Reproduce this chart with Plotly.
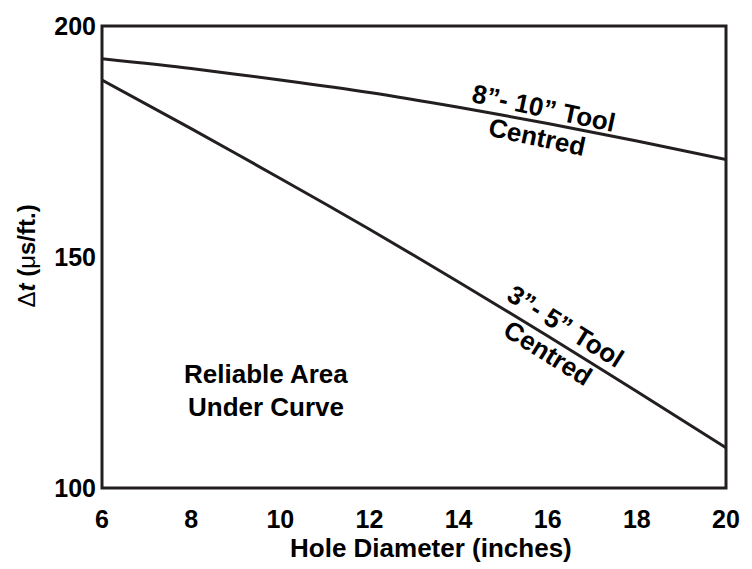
import plotly.graph_objects as go

# Hole diameter (inches) and interval transit time (µs/ft) limits
diameter = [6, 8, 10, 12, 14, 16, 18, 20]
dt_8_10_tool = [192.9, 190.8, 188.3, 185.6, 182.4, 178.9, 175.1, 171.1]
dt_3_5_tool = [188.3, 177.8, 167.0, 156.0, 144.6, 132.9, 120.9, 108.7]

x_ticks = [6, 8, 10, 12, 14, 16, 18, 20]
y_ticks = [100, 150, 200]

INK = "#231f20"
FONT = "Liberation Sans, Arial, Helvetica, sans-serif"

W, H = 752, 569
L, R, T, B = 102, 26, 17, 81
PW, PH = W - L - R, H - T - B


def px(x):
    return (x - L) / PW


def py(y):
    return (H - B - y) / PH


fig = go.Figure()
for ys in (dt_8_10_tool, dt_3_5_tool):
    fig.add_trace(go.Scatter(
        x=diameter, y=ys, mode="lines",
        line=dict(color=INK, width=3, shape="spline", smoothing=0.8),
        showlegend=False, hoverinfo="skip",
    ))

fig.update_layout(
    width=W, height=H,
    margin=dict(l=L, r=R, t=T, b=B, pad=0),
    paper_bgcolor="white", plot_bgcolor="white",
    font=dict(family=FONT, color=INK, size=25),
    xaxis=dict(
        range=[6, 20], tickvals=x_ticks, ticktext=[str(v) for v in x_ticks],
        showgrid=False, zeroline=False, showline=False, ticks="",
        tickfont=dict(family=FONT, size=25, color="black", weight="bold"),
        ticklabelstandoff=14,
    ),
    yaxis=dict(
        range=[100, 200], tickvals=y_ticks, ticktext=[str(v) for v in y_ticks],
        showgrid=False, zeroline=False, showline=False, ticks="",
        tickfont=dict(family=FONT, size=25, color="black", weight="bold"),
        ticklabelstandoff=5,
    ),
    shapes=[dict(
        type="rect", xref="paper", yref="paper", x0=0, x1=1, y0=0, y1=1,
        line=dict(color=INK, width=3), layer="above",
    )],
)

annotations = [
    # axis titles
    dict(text="<b>Hole Diameter (inches)</b>", x=px(431), y=py(549),
         textangle=0, size=26),
    dict(text="Δ<b><i>t</i> (</b>μ<b>s/ft.)</b>", x=px(27), y=py(252),
         textangle=-90, size=24),
    # curve labels, one line each so the line spacing stays tight
    dict(text="<b>8”- 10” Tool</b>", x=px(543), y=py(101),
         textangle=12, size=26),
    dict(text="<b>Centred</b>", x=px(537), y=py(130),
         textangle=12, size=26),
    dict(text="<b>3”- 5” Tool</b>", x=px(565), y=py(323),
         textangle=32, size=26),
    dict(text="<b>Centred</b>", x=px(548), y=py(350),
         textangle=32, size=26),
    dict(text="<b>Reliable Area</b>", x=px(266), y=py(372),
         textangle=0, size=26),
    dict(text="<b>Under Curve</b>", x=px(266), y=py(405),
         textangle=0, size=26),
]
for a in annotations:
    fig.add_annotation(
        text=a["text"], x=a["x"], y=a["y"], xref="paper", yref="paper",
        xanchor="center", yanchor="middle", showarrow=False,
        textangle=a["textangle"],
        font=dict(family=FONT, size=a["size"], color="black"),
    )

fig.write_html("out.html")
